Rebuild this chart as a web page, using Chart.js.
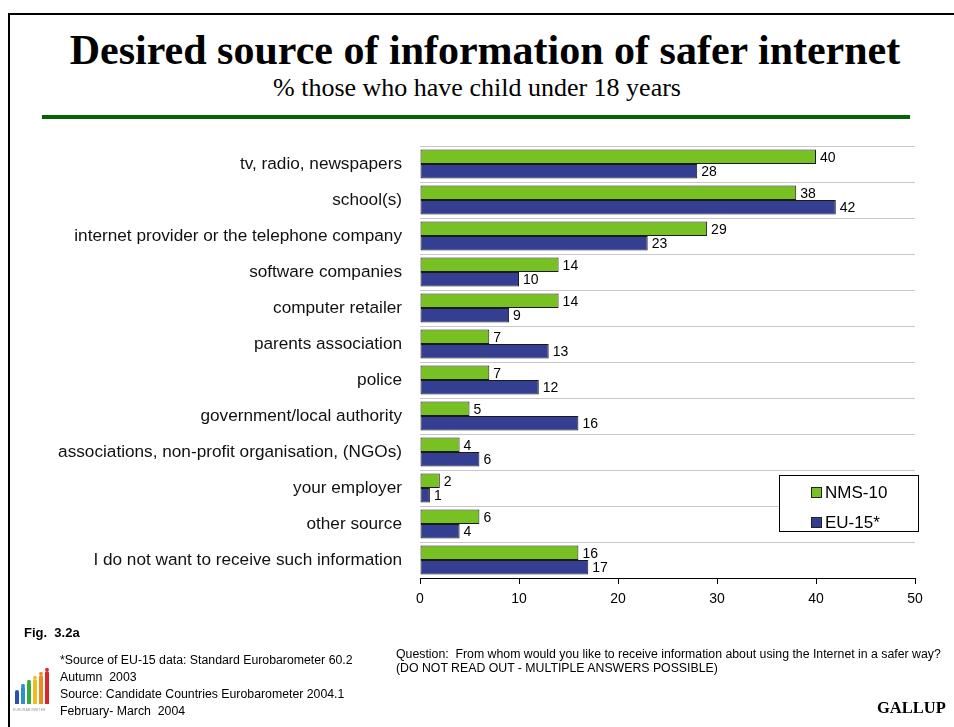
<!DOCTYPE html>
<html>
<head>
<meta charset="utf-8">
<title>Desired source of information of safer internet</title>
<script src="https://cdn.jsdelivr.net/npm/chart.js@4.4.1/dist/chart.umd.min.js"></script>
<style>
  html, body { margin: 0; padding: 0; background: #fff; }
  #page { position: relative; width: 954px; height: 727px; overflow: hidden; background: #fff; }
  #frame { position: absolute; left: 8px; top: 13px; width: 1000px; height: 800px; border: 2px solid #000; box-sizing: border-box; }
  #title { position: absolute; left: 8px; width: 954px; top: 26px; text-align: center;
           font-family: "Liberation Serif", "Times New Roman", serif; font-weight: bold; font-size: 42px; line-height: 48px; color: #000; }
  #subtitle { position: absolute; left: 0; width: 954px; top: 73px; text-align: center;
              font-family: "Liberation Serif", "Times New Roman", serif; font-size: 26px; line-height: 30px; color: #000; }
  #rule { position: absolute; left: 42px; top: 115px; width: 868px; height: 4px; background: #056205; }
  #chart { position: absolute; left: 0; top: 0; }
  .foot { position: absolute; font-family: "Liberation Sans", Arial, sans-serif; color: #000; white-space: nowrap; }
  #fig { left: 24px; top: 625px; font-size: 13px; font-weight: bold; }
  #src { left: 60px; top: 652px; font-size: 12.3px; line-height: 17px; }
  #question { left: 396px; top: 647px; font-size: 12.3px; line-height: 14px; }
  #gallup { position: absolute; left: 877px; top: 698px; font-family: "Liberation Serif", "Times New Roman", serif; font-weight: bold; font-size: 16.5px; }
  #logo { position: absolute; left: 13px; top: 668px; width: 42px; height: 46px; }
  #logo span { position: absolute; bottom: 10px; width: 4px; border-radius: 2px 2px 0 0; }
  #logo i { position: absolute; width: 4px; height: 3px; border-radius: 2px; }
  #logo b { position: absolute; left: 0; bottom: 2px; font: 3px Arial, sans-serif; color: #8a8aa0; letter-spacing: 0.4px; }
</style>
</head>
<body>
<div id="page">
  <div id="frame"></div>
  <div id="title">Desired source of information of safer internet</div>
  <div id="subtitle">% those who have child under 18 years</div>
  <div id="rule"></div>
  <canvas id="chart" width="954" height="727"></canvas>
  <div class="foot" id="fig">Fig.&nbsp;&nbsp;3.2a</div>
  <div class="foot" id="src">*Source of EU-15 data: Standard Eurobarometer 60.2<br>Autumn&nbsp;&nbsp;2003<br>Source: Candidate Countries Eurobarometer 2004.1<br>February- March&nbsp;&nbsp;2004</div>
  <div class="foot" id="question">Question:&nbsp;&nbsp;From whom would you like to receive information about using the Internet in a safer way?<br>(DO NOT READ OUT - MULTIPLE ANSWERS POSSIBLE)</div>
  <div id="gallup">GALLUP</div>
  <div id="logo">
    <span style="left:2px;height:14px;background:#2b4fb5"></span>
    <span style="left:8px;height:18px;background:#2f8fd0"></span>
    <span style="left:14px;height:22px;background:#3aa83a"></span>
    <span style="left:20px;height:25px;background:#e8c020"></span>
    <span style="left:26px;height:29px;background:#f08a20"></span>
    <span style="left:32px;height:33px;background:#d8262a"></span>
    <i style="left:8px;top:16px;background:#2f8fd0"></i>
    <i style="left:14px;top:12px;background:#3aa83a"></i>
    <i style="left:20px;top:8px;background:#e8c020"></i>
    <i style="left:26px;top:4px;background:#f08a20"></i>
    <i style="left:32px;top:0px;background:#d8262a"></i>
    <b>EUROBAROMETER</b>
  </div>
</div>
<script>
// Answer categories, top to bottom
const categories = [
  'tv, radio, newspapers',
  'school(s)',
  'internet provider or the telephone company',
  'software companies',
  'computer retailer',
  'parents association',
  'police',
  'government/local authority',
  'associations, non-profit organisation, (NGOs)',
  'your employer',
  'other source',
  'I do not want to receive such information'
];

// Percentages per group
const nms10 = [40, 38, 29, 14, 14, 7, 7, 5, 4, 2, 6, 16];
const eu15  = [28, 42, 23, 10,  9, 13, 12, 16, 6, 1, 4, 17];

// Value axis ticks
const xTicks = [0, 10, 20, 30, 40, 50];

const seriesNames = ['NMS-10', 'EU-15*'];

const SANS = '"Liberation Sans", Arial, sans-serif';

// Numbers printed just past the end of each bar
const valueLabels = {
  id: 'valueLabels',
  afterDatasetsDraw(chart) {
    const ctx = chart.ctx;
    ctx.save();
    ctx.font = '14px ' + SANS;
    ctx.fillStyle = '#000';
    ctx.textAlign = 'left';
    ctx.textBaseline = 'middle';
    chart.data.datasets.forEach((ds, i) => {
      chart.getDatasetMeta(i).data.forEach((bar, j) => {
        ctx.fillText(String(ds.data[j]), bar.x + 4, bar.y + 1);
      });
    });
    ctx.restore();
  }
};

// Boxed legend in the lower right of the plot
const boxLegend = {
  id: 'boxLegend',
  afterDraw(chart) {
    const ctx = chart.ctx;
    const x = 779, y = 475, w = 139, h = 56;
    ctx.save();
    ctx.fillStyle = '#fff';
    ctx.fillRect(x, y, w, h);
    ctx.strokeStyle = '#000';
    ctx.lineWidth = 1;
    ctx.strokeRect(x + 0.5, y + 0.5, w, h);
    ctx.font = '17px ' + SANS;
    ctx.textBaseline = 'middle';
    chart.data.datasets.forEach((ds, i) => {
      const cy = y + 17 + i * 30;
      ctx.fillStyle = ds.backgroundColor;
      ctx.fillRect(x + 32, cy - 5, 10, 10);
      ctx.strokeStyle = '#222';
      ctx.strokeRect(x + 32.5, cy - 4.5, 10, 10);
      ctx.fillStyle = '#000';
      ctx.fillText(ds.label, x + 46, cy + 1);
    });
    ctx.restore();
  }
};

new Chart(document.getElementById('chart'), {
  type: 'bar',
  data: {
    labels: categories,
    datasets: [
      { label: seriesNames[0], data: nms10, backgroundColor: '#77c123', borderColor: '#1a1a1a',
        borderWidth: 1, borderSkipped: false, categoryPercentage: 0.8, barPercentage: 1 },
      { label: seriesNames[1], data: eu15, backgroundColor: '#343f91', borderColor: '#1a1a1a',
        borderWidth: 1, borderSkipped: false, categoryPercentage: 0.8, barPercentage: 1 }
    ]
  },
  options: {
    indexAxis: 'y',
    responsive: false,
    animation: false,
    devicePixelRatio: 1,
    layout: { padding: { top: 146, right: 39, bottom: 109, left: 0 } },
    plugins: { legend: { display: false }, tooltip: { enabled: false } },
    scales: {
      x: {
        min: xTicks[0],
        max: xTicks[xTicks.length - 1],
        afterBuildTicks(scale) { scale.ticks = xTicks.map(v => ({ value: v })); },
        afterFit(scale) { scale.height = 40; },
        ticks: { color: '#000', padding: 7, font: { family: SANS, size: 14 } },
        grid: { drawOnChartArea: false, drawTicks: true, tickLength: 6, color: '#000' },
        border: { color: '#000', width: 1 }
      },
      y: {
        afterFit(scale) { scale.width = 420; },
        ticks: { color: '#111', padding: 18, font: { family: SANS, size: 17.2 } },
        grid: { color: '#c8c8c8', drawTicks: false, offset: true },
        border: { display: false }
      }
    }
  },
  plugins: [valueLabels, boxLegend]
});
</script>
</body>
</html>
